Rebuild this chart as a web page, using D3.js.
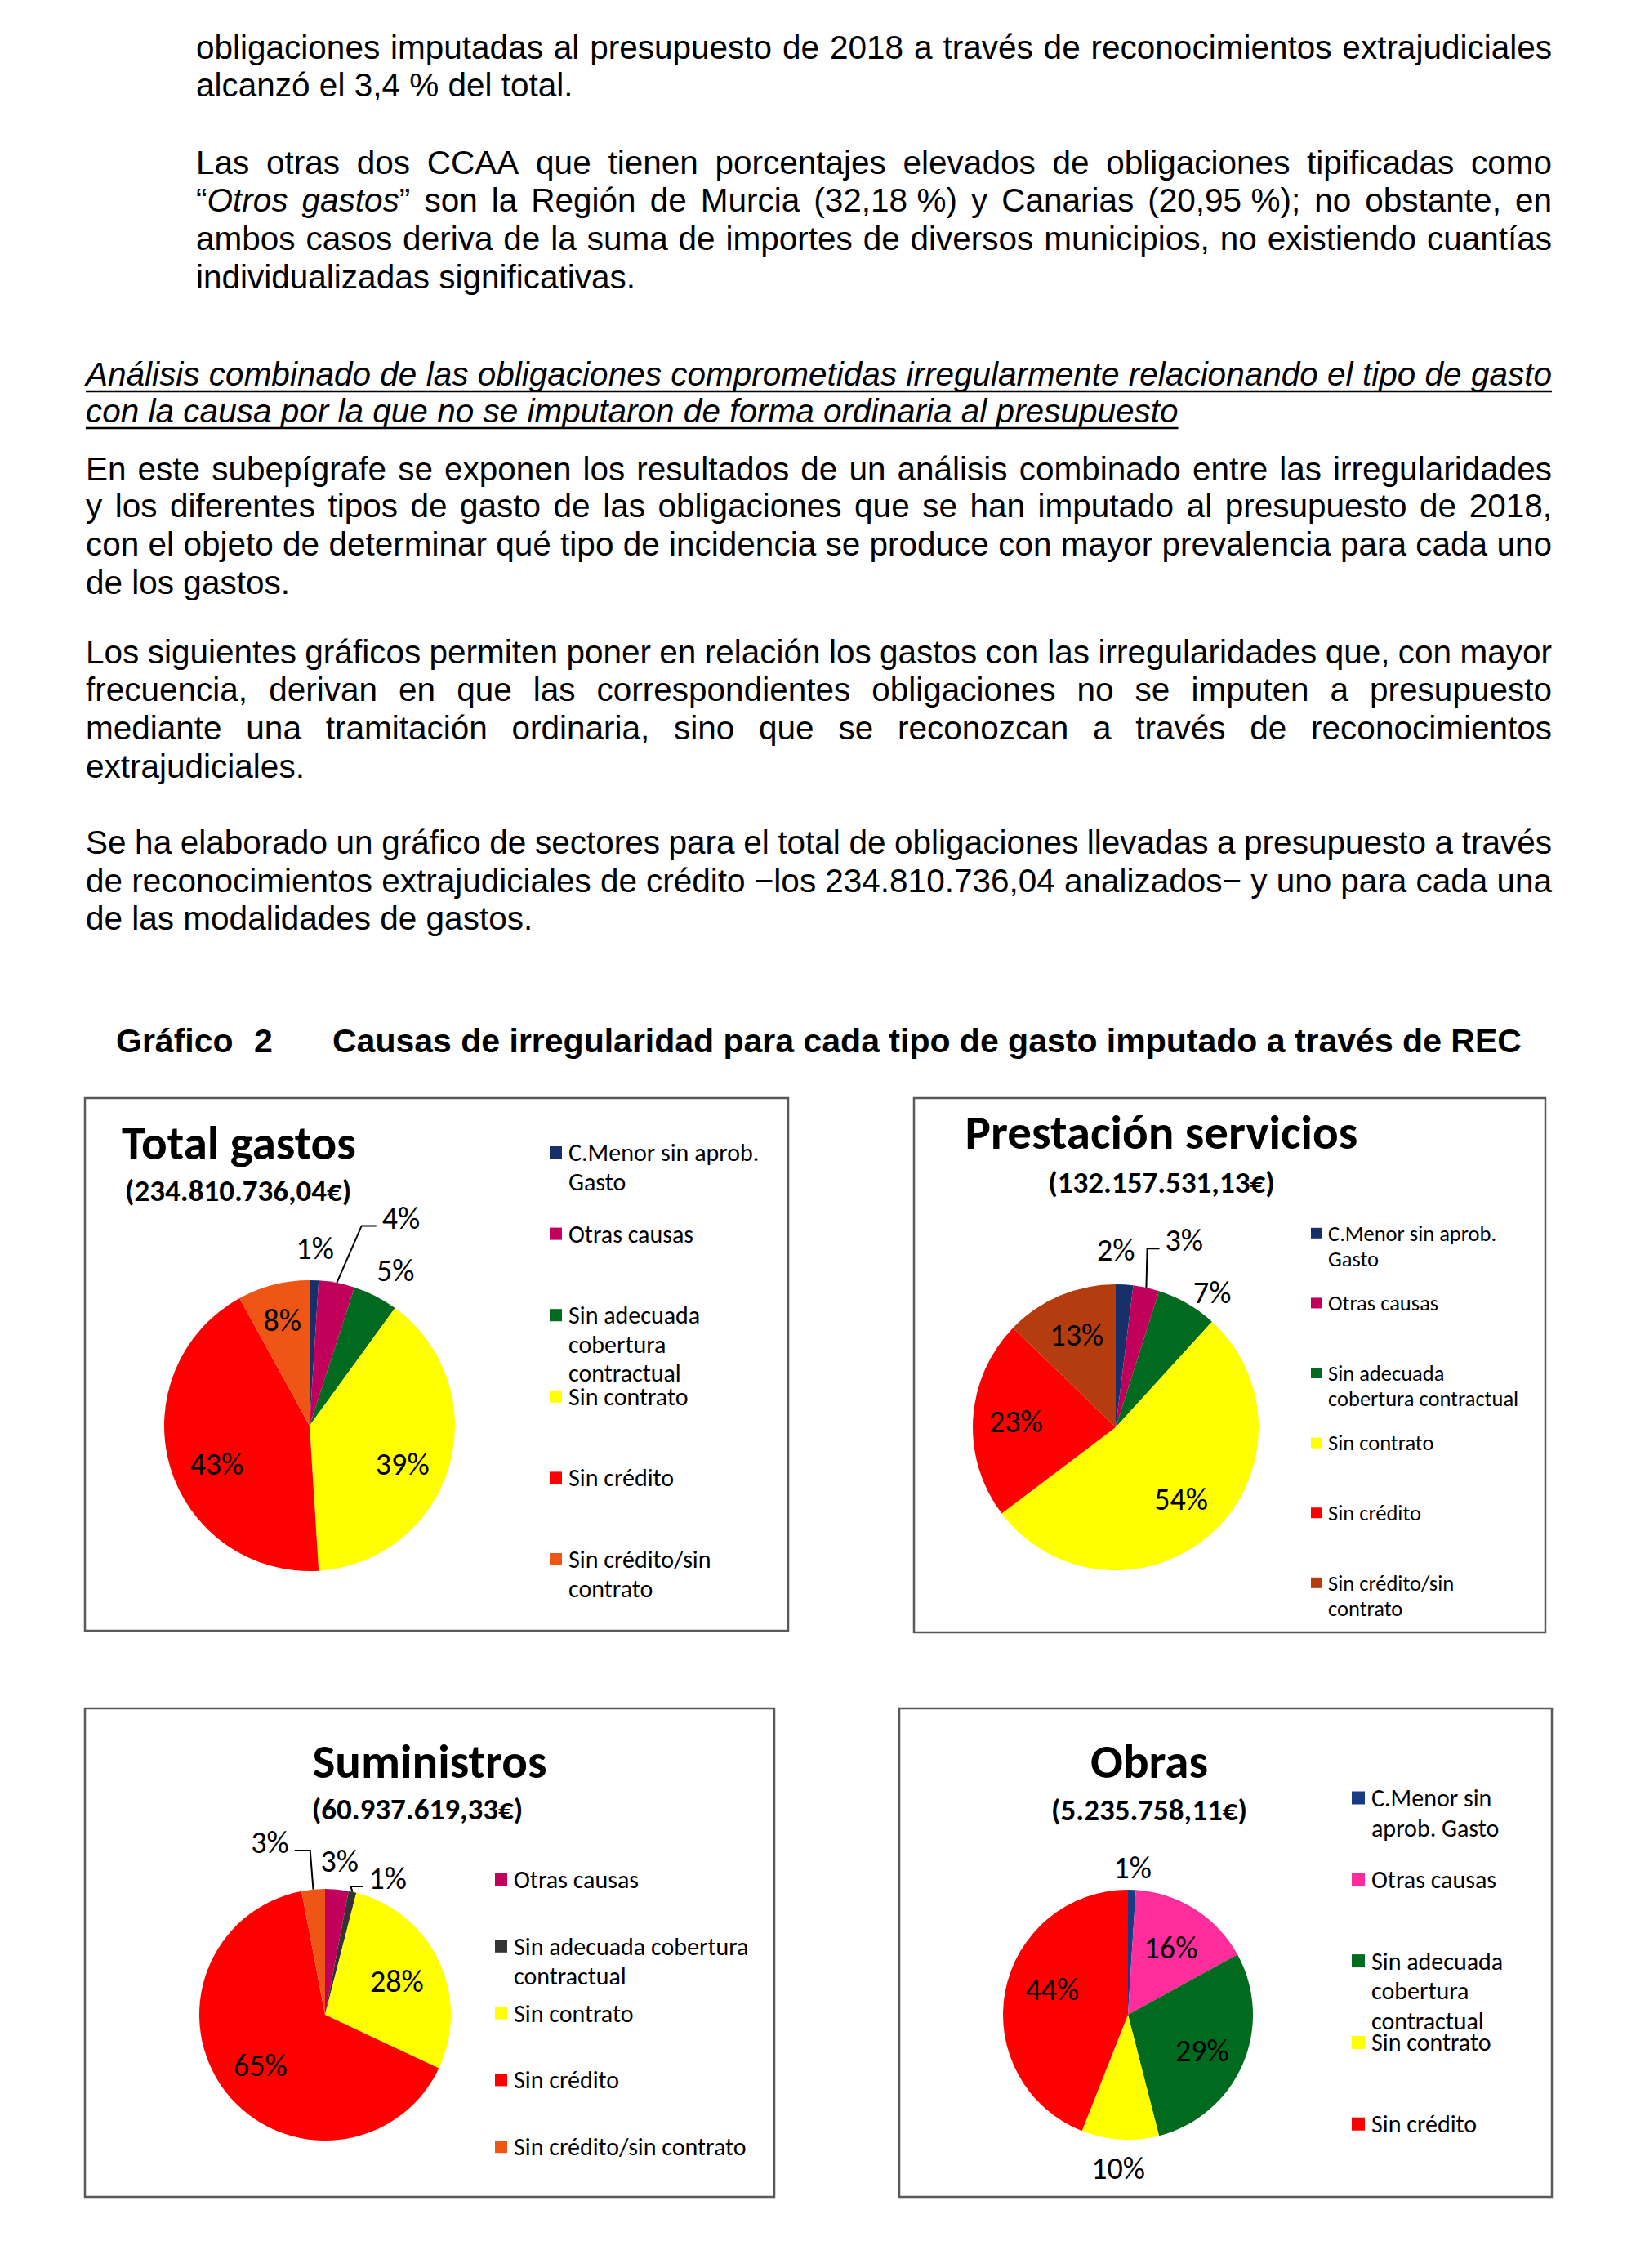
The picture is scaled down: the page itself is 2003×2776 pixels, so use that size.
<!DOCTYPE html>
<html>
<head>
<meta charset="utf-8">
<script src="https://cdn.jsdelivr.net/npm/d3@7"></script>
<style>
  body { margin: 0; background: #fff; }
  svg { display: block; }
</style>
</head>
<body>
<script>
// ---- chart data (percent labels as printed) ----
var totalCauses = ["C.Menor sin aprob. Gasto", "Otras causas", "Sin adecuada cobertura contractual", "Sin contrato", "Sin crédito", "Sin crédito/sin contrato"];
var totalPct = [1, 4, 5, 39, 43, 8];

var prestCauses = ["C.Menor sin aprob. Gasto", "Otras causas", "Sin adecuada cobertura contractual", "Sin contrato", "Sin crédito", "Sin crédito/sin contrato"];
var prestPct = [2, 3, 7, 54, 23, 13];

var sumCauses = ["Otras causas", "Sin adecuada cobertura contractual", "Sin contrato", "Sin crédito", "Sin crédito/sin contrato"];
var sumPct = [3, 1, 28, 65, 3];

var obrasCauses = ["C.Menor sin aprob. Gasto", "Otras causas", "Sin adecuada cobertura contractual", "Sin contrato", "Sin crédito"];
var obrasPct = [1, 16, 29, 10, 44];

// legend entries, broken into lines as printed
var totalLegend = ["C.Menor sin aprob.|Gasto", "Otras causas", "Sin adecuada|cobertura|contractual", "Sin contrato", "Sin crédito", "Sin crédito/sin|contrato"];
var prestLegend = ["C.Menor sin aprob.|Gasto", "Otras causas", "Sin adecuada|cobertura contractual", "Sin contrato", "Sin crédito", "Sin crédito/sin|contrato"];
var sumLegend = ["Otras causas", "Sin adecuada cobertura|contractual", "Sin contrato", "Sin crédito", "Sin crédito/sin contrato"];
var obrasLegend = ["C.Menor sin|aprob. Gasto", "Otras causas", "Sin adecuada|cobertura|contractual", "Sin contrato", "Sin crédito"];

// ---- page text ----
var blockA = [
    { t: "obligaciones imputadas al presupuesto de 2018 a través de reconocimientos extrajudiciales", j: true },
    { t: "alcanzó el 3,4\u00a0% del total." },
    { t: "Las otras dos CCAA que tienen porcentajes elevados de obligaciones tipificadas como", j: true },
    { t: "“_Otros gastos_” son la Región de Murcia (32,18\u00a0%) y Canarias (20,95\u00a0%); no obstante, en", j: true },
    { t: "ambos casos deriva de la suma de importes de diversos municipios, no existiendo cuantías", j: true },
    { t: "individualizadas significativas." }
];
var blockAy = [72, 118, 213, 259, 306, 353];

var heading = [
    { t: "Análisis combinado de las obligaciones comprometidas irregularmente relacionando el tipo de gasto", j: true },
    { t: "con la causa por la que no se imputaron de forma ordinaria al presupuesto" }
];
var headingY = [472, 517];

var blockB = [
    { t: "En este subepígrafe se exponen los resultados de un análisis combinado entre las irregularidades", j: true },
    { t: "y los diferentes tipos de gasto de las obligaciones que se han imputado al presupuesto de 2018,", j: true },
    { t: "con el objeto de determinar qué tipo de incidencia se produce con mayor prevalencia para cada uno", j: true },
    { t: "de los gastos." },
    { t: "Los siguientes gráficos permiten poner en relación los gastos con las irregularidades que, con mayor", j: true },
    { t: "frecuencia, derivan en que las correspondientes obligaciones no se imputen a presupuesto", j: true },
    { t: "mediante una tramitación ordinaria, sino que se reconozcan a través de reconocimientos", j: true },
    { t: "extrajudiciales." },
    { t: "Se ha elaborado un gráfico de sectores para el total de obligaciones llevadas a presupuesto a través", j: true },
    { t: "de reconocimientos extrajudiciales de crédito −los 234.810.736,04 analizados− y uno para cada una", j: true },
    { t: "de las modalidades de gastos." }
];
var blockBy = [588, 633, 680, 727, 812, 858, 905, 952, 1045, 1092, 1138];

// ---- styles ----
var bodyFont = "'Liberation Sans', Arial, sans-serif";
var chartFont = "Carlito, Calibri, Lato, sans-serif";
var causeColor = {
    "C.Menor sin aprob. Gasto": "#17306a",
    "Otras causas": "#c0005a",
    "Sin adecuada cobertura contractual": "#006b1e",
    "Sin contrato": "#ffff00",
    "Sin crédito": "#ff0000",
    "Sin crédito/sin contrato": "#ef5514"
};

var charts = [
    {
        title: "Total gastos", sub: "(234.810.736,04€)", causes: totalCauses, pct: totalPct, legend: totalLegend,
        box: [104, 1344, 965, 1996], cx: 379, cy: 1745, r: 178,
        titleX: 149, subX: 153, anchor: "start", titleY: 1419, subY: 1470,
        leg: { x: 673, y: 1421, step: 99.6, line: 35.5, sq: 15, fs: 30 },
        labels: [{ pos: "out" }, { pos: "lead", er: 1.42, ea: 14.6, hl: 18 }, { pos: "out", da: 2 },
                 { pos: "in", k: 0.69, da: 6 }, { pos: "in", k: 0.69, da: -6 }, { pos: "in", k: 0.75 }]
    },
    {
        title: "Prestación servicios", sub: "(132.157.531,13€)", causes: prestCauses, pct: prestPct, legend: prestLegend,
        colors: { "Sin crédito/sin contrato": "#b43c0f" },
        box: [1119, 1344, 1892, 1998], cx: 1366, cy: 1747, r: 175,
        titleX: 1422, subX: 1422, anchor: "middle", titleY: 1406, subY: 1460,
        leg: { x: 1605, y: 1518.6, step: 85.6, line: 31.5, sq: 13, fs: 26.5 },
        labels: [{ pos: "out", k: 1.24, da: -3.5 }, { pos: "lead", er: 1.27, ea: 10, hl: 15 }, { pos: "out", k: 1.16, da: 5.6 },
                 { pos: "in", k: 0.68 }, { pos: "in", k: 0.70 }, { pos: "in", k: 0.70 }]
    },
    {
        title: "Suministros", sub: "(60.937.619,33€)", causes: sumCauses, pct: sumPct, legend: sumLegend,
        colors: { "Sin adecuada cobertura contractual": "#333333" },
        box: [104, 2091, 948, 2689], cx: 398, cy: 2466, r: 154,
        titleX: 526, subX: 511, anchor: "middle", titleY: 2176, subY: 2227,
        leg: { x: 606, y: 2311, step: 81.8, line: 36, sq: 15, fs: 30 },
        labels: [{ pos: "out", k: 1.225 }, { pos: "lead", er: 1.04, ea: 11.3, hl: 15 }, { pos: "in", k: 0.63 },
                 { pos: "in", k: 0.65 }, { pos: "lead", er: 1.31, ea: -5.2, hl: -19 }]
    },
    {
        title: "Obras", sub: "(5.235.758,11€)", causes: obrasCauses, pct: obrasPct, legend: obrasLegend,
        colors: { "Otras causas": "#ff2d9b", "C.Menor sin aprob. Gasto": "#1a3a85" },
        box: [1101, 2091, 1900, 2689], cx: 1381, cy: 2466, r: 153,
        titleX: 1407, subX: 1407, anchor: "middle", titleY: 2176, subY: 2228,
        leg: { x: 1655, y: 2211, step: 99.8, line: 36.5, sq: 16, fs: 30 },
        labels: [{ pos: "out", k: 1.18 }, { pos: "in", k: 0.64 }, { pos: "in", k: 0.66, da: 2.4 },
                 { pos: "out", k: 1.23 }, { pos: "in", k: 0.64, da: 8 }]
    }
];

var svg = d3.select("body").append("svg")
    .attr("width", 2003)
    .attr("height", 2776);
svg.append("rect").attr("width", 2003).attr("height", 2776).attr("fill", "#fff");

// draw justified / plain lines of body text
function drawLines (lines, ys, x0, x1, opts) {
    var size = opts.size || 40.5;
    lines.forEach(function (L, li) {
        var it = !!opts.italic;
        var words = L.t.split(" ").map(function (w) {
            var segs = [];
            w.split("_").forEach(function (p, i) {
                if (i > 0) it = !it;
                if (p) segs.push({ t: p, it: it });
            });
            return segs;
        });
        var txt = svg.append("text")
            .attr("y", ys[li])
            .attr("font-family", bodyFont)
            .attr("font-size", size)
            .attr("font-weight", opts.bold ? "bold" : "normal")
            .attr("fill", "#000");
        var widths = [], firsts = [];
        words.forEach(function (segs) {
            var w = 0;
            segs.forEach(function (s, si) {
                var ts = txt.append("tspan").text(s.t).attr("font-style", s.it ? "italic" : "normal");
                if (si === 0) firsts.push(ts);
                w += ts.node().getComputedTextLength();
            });
            widths.push(w);
        });
        var gap = L.j ? (x1 - x0 - d3.sum(widths)) / (words.length - 1) : size * 0.278;
        var x = x0;
        firsts.forEach(function (ts, i) {
            ts.attr("x", x);
            x += widths[i] + gap;
        });
        if (opts.underline) {
            svg.append("line")
                .attr("x1", x0).attr("x2", x - gap)
                .attr("y1", ys[li] + 7).attr("y2", ys[li] + 7)
                .attr("stroke", "#000").attr("stroke-width", 2.5);
        }
    });
}

drawLines(blockA, blockAy, 240, 1900, {});
drawLines(heading, headingY, 105, 1900, { italic: true, underline: true });
drawLines(blockB, blockBy, 105, 1900, {});

// caption
var cap = svg.append("g")
    .attr("font-family", bodyFont)
    .attr("font-size", 41)
    .attr("font-weight", "bold");
cap.append("text").attr("x", 142).attr("y", 1288).text("Gráfico");
cap.append("text").attr("x", 311).attr("y", 1288).text("2");
cap.append("text").attr("x", 407).attr("y", 1288).text("Causas de irregularidad para cada tipo de gasto imputado a través de REC");

// polar helper, angle in radians from 12 o'clock clockwise
function polar (c, k, a) {
    return [c.cx + k * c.r * Math.sin(a), c.cy - k * c.r * Math.cos(a)];
}
var rad = Math.PI / 180;

charts.forEach(function (c) {
    var g = svg.append("g");
    var colorOf = function (name) {
        return (c.colors && c.colors[name]) || causeColor[name];
    };

    // frame
    g.append("rect")
        .attr("x", c.box[0]).attr("y", c.box[1])
        .attr("width", c.box[2] - c.box[0]).attr("height", c.box[3] - c.box[1])
        .attr("fill", "#fff")
        .attr("stroke", "#595959")
        .attr("stroke-width", 2.5);

    // titles
    g.append("text")
        .attr("x", c.titleX).attr("y", c.titleY)
        .attr("text-anchor", c.anchor)
        .attr("font-family", chartFont)
        .attr("font-weight", "bold")
        .attr("font-size", 59)
        .text(c.title);
    g.append("text")
        .attr("x", c.subX).attr("y", c.subY)
        .attr("text-anchor", c.anchor)
        .attr("font-family", chartFont)
        .attr("font-weight", "bold")
        .attr("font-size", 37)
        .text(c.sub);

    // pie
    var data = c.causes.map(function (name, i) { return { name: name, v: c.pct[i] }; });
    var arcs = d3.pie().sort(null).value(function (d) { return d.v; })(data);
    var arc = d3.arc().innerRadius(0).outerRadius(c.r);
    g.append("g")
        .attr("transform", "translate(" + c.cx + "," + c.cy + ")")
        .selectAll("path")
        .data(arcs)
        .enter().append("path")
        .attr("d", arc)
        .attr("fill", function (d) { return colorOf(d.data.name); });

    // percentage labels
    arcs.forEach(function (d, i) {
        var spec = c.labels[i];
        var mid = (d.startAngle + d.endAngle) / 2;
        var t = g.append("text")
            .attr("font-family", chartFont)
            .attr("font-size", 38)
            .attr("fill", "#000")
            .attr("dy", "0.35em")
            .text(d.data.v + "%");
        if (spec.pos === "lead") {
            var p0 = polar(c, 1, mid);
            var pe = polar(c, spec.er, spec.ea * rad);
            var p2 = [pe[0] + spec.hl, pe[1]];
            g.append("polyline")
                .attr("points", [p0, pe, p2].map(function (p) { return p.join(","); }).join(" "))
                .attr("fill", "none")
                .attr("stroke", "#000")
                .attr("stroke-width", 2);
            t.attr("x", p2[0] + (spec.hl > 0 ? 7 : -7))
                .attr("y", pe[1] - 10)
                .attr("text-anchor", spec.hl > 0 ? "start" : "end");
        } else {
            var k = spec.k || (spec.pos === "out" ? 1.22 : 0.67);
            var p = polar(c, k, mid + (spec.da || 0) * rad);
            t.attr("x", p[0]).attr("y", p[1]).attr("text-anchor", "middle");
        }
    });

    // legend
    var L = c.leg;
    var leg = g.append("g")
        .attr("font-family", chartFont)
        .attr("font-size", L.fs);
    c.legend.forEach(function (entry, i) {
        var y = L.y + i * L.step;
        leg.append("rect")
            .attr("x", L.x)
            .attr("y", y - 0.35 * L.fs - L.sq / 2)
            .attr("width", L.sq).attr("height", L.sq)
            .attr("fill", colorOf(c.causes[i]));
        var txt = leg.append("text").attr("y", y);
        entry.split("|").forEach(function (line, j) {
            txt.append("tspan")
                .attr("x", L.x + L.sq + 8)
                .attr("y", y + j * L.line)
                .text(line);
        });
    });
});
</script>
</body>
</html>
